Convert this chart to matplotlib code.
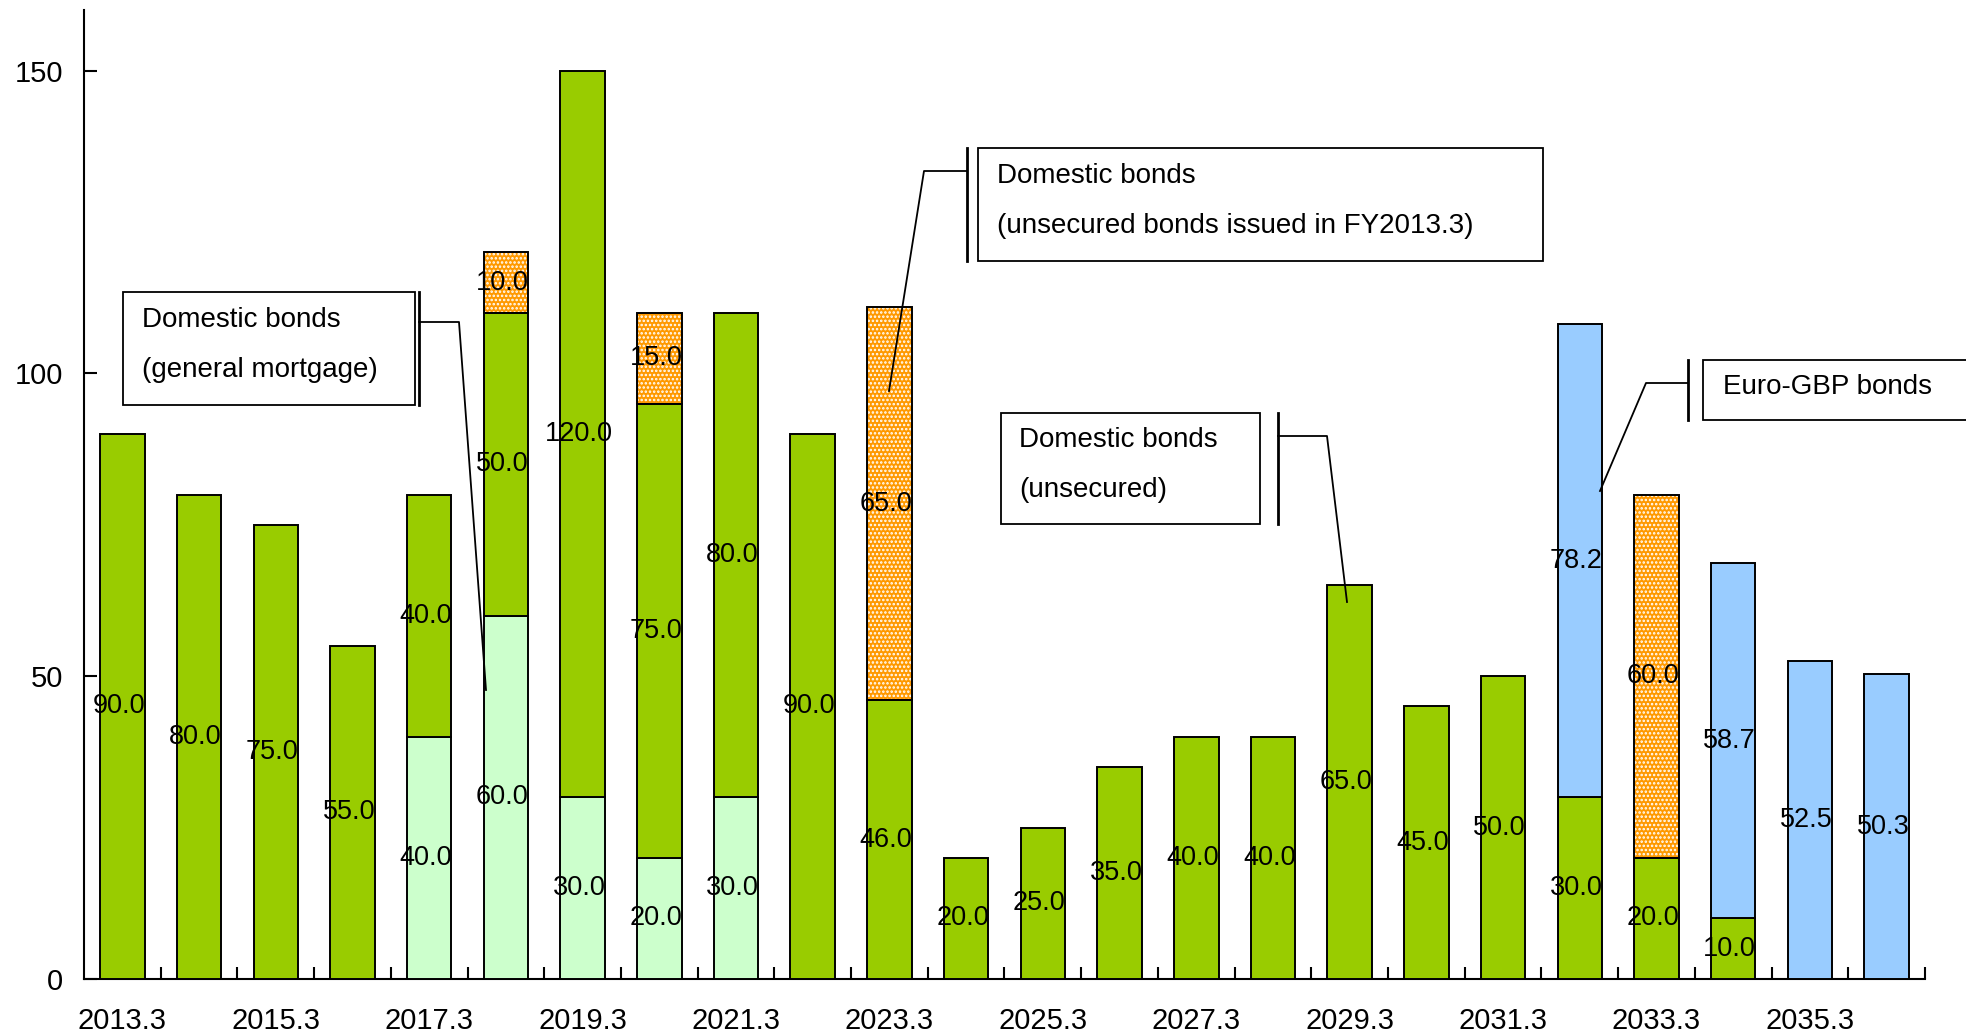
import matplotlib
matplotlib.use("Agg")
import matplotlib.pyplot as plt
from matplotlib.patches import Rectangle
from matplotlib.lines import Line2D
import numpy as np

plt.rcParams['font.family'] = ['Liberation Sans', 'DejaVu Sans']
plt.rcParams['hatch.linewidth'] = 1.2

years = ["2013.3", "2014.3", "2015.3", "2016.3", "2017.3", "2018.3", "2019.3", "2020.3",
         "2021.3", "2022.3", "2023.3", "2024.3", "2025.3", "2026.3", "2027.3", "2028.3",
         "2029.3", "2030.3", "2031.3", "2032.3", "2033.3", "2034.3", "2035.3", "2036.3"]
general_mortgage = [0, 0, 0, 0, 40, 60, 30, 20, 30, 0, 0, 0,
                    0, 0, 0, 0, 0, 0, 0, 0, 0, 0, 0, 0]
unsecured = [90, 80, 75, 55, 40, 50, 120, 75, 80, 90, 46, 20,
             25, 35, 40, 40, 65, 45, 50, 30, 20, 10, 0, 0]
unsecured_fy2013 = [0, 0, 0, 0, 0, 10, 0, 15, 0, 0, 65, 0,
                    0, 0, 0, 0, 0, 0, 0, 0, 60, 0, 0, 0]
euro_gbp = [0, 0, 0, 0, 0, 0, 0, 0, 0, 0, 0, 0,
            0, 0, 0, 0, 0, 0, 0, 78.2, 0, 58.7, 52.5, 50.3]
yticks = [0, 50, 100, 150]

W, H = 1966, 1035
fig = plt.figure(figsize=(W / 100, H / 100), dpi=100)
ax = fig.add_axes([84 / W, 1 - 979 / H, (1925 - 84) / W, (979 - 10) / H])

x = np.arange(len(years))
bw = 0.58
bottom = np.zeros(len(years))
series = [(general_mortgage, '#CCFFCC', False),
          (unsecured, '#99CC00', False),
          (unsecured_fy2013, '#FF9900', True),
          (euro_gbp, '#99CCFF', False)]
for vals, col, dotted in series:
    v = np.array(vals, float)
    m = v > 0
    if dotted:
        ax.bar(x[m], v[m], bw, bottom=bottom[m], color=col, edgecolor='white',
               hatch='....', linewidth=0, zorder=2)
        ax.bar(x[m], v[m], bw, bottom=bottom[m], fill=False, edgecolor='black',
               linewidth=1.4, zorder=3)
    else:
        ax.bar(x[m], v[m], bw, bottom=bottom[m], color=col, edgecolor='black',
               linewidth=1.4, zorder=3)
    for xi, b, vi in zip(x[m], bottom[m], v[m]):
        ax.annotate(f"{vi:.1f}", (xi, b + vi / 2), xytext=(-2.5, 0),
                    textcoords='offset points', ha='center', va='center',
                    fontsize=19.5, zorder=5)
    bottom += v

ax.set_xlim(-0.5, len(years) - 0.5)
ax.set_ylim(0, 160)
for s in ['top', 'right']:
    ax.spines[s].set_visible(False)
for s in ['left', 'bottom']:
    ax.spines[s].set_linewidth(1.5)

ax.set_xticks(np.arange(0.5, len(years), 1))
ax.set_xticklabels([])
ax.set_xticks(x[::2], minor=True)
ax.set_xticklabels(years[::2], minor=True)
ax.tick_params(axis='x', which='major', direction='in', length=9, width=1.5)
ax.tick_params(axis='x', which='minor', length=0, pad=20, labelsize=21)
ax.set_yticks(yticks)
ax.tick_params(axis='y', direction='in', length=9, width=1.5, pad=15, labelsize=21)


def P(px, py):
    return (px / W, 1 - py / H)


def line(pts, lw=1.3):
    xs = [p[0] / W for p in pts]
    ys = [1 - p[1] / H for p in pts]
    fig.add_artist(Line2D(xs, ys, color='black', lw=lw, transform=fig.transFigure))


def box(x0, y0, x1, y1):
    fig.add_artist(Rectangle(P(x0, y1), (x1 - x0) / W, (y1 - y0) / H, fill=True,
                             facecolor='white', edgecolor='black', lw=1.3,
                             transform=fig.transFigure, zorder=6))


def txt(px, py, s):
    fig.text(px / W, 1 - py / H, s, ha='left', va='center', fontsize=20, zorder=7)


# Domestic bonds (general mortgage)
box(123, 292, 415, 405)
line([(419, 292), (419, 405)], lw=2)
line([(419, 322), (459, 322), (486, 690)])
txt(142, 320, "Domestic bonds")
txt(142, 370, "(general mortgage)")

# Domestic bonds (unsecured bonds issued in FY2013.3)
box(978, 148, 1543, 261)
line([(967, 148), (967, 261)], lw=2)
line([(967, 171), (924, 171), (889, 391)])
txt(997, 176, "Domestic bonds")
txt(997, 226, "(unsecured bonds issued in FY2013.3)")

# Domestic bonds (unsecured)
box(1001, 413, 1260, 524)
line([(1278, 413), (1278, 524)], lw=2)
line([(1278, 436), (1327, 436), (1347, 602)])
txt(1019, 440, "Domestic bonds")
txt(1019, 490, "(unsecured)")

# Euro-GBP bonds
box(1703, 360, 1975, 420)
line([(1688, 360), (1688, 420)], lw=2)
line([(1688, 383), (1646, 383), (1600, 491)])
txt(1723, 387, "Euro-GBP bonds")

fig.savefig("out.png", dpi=100)
